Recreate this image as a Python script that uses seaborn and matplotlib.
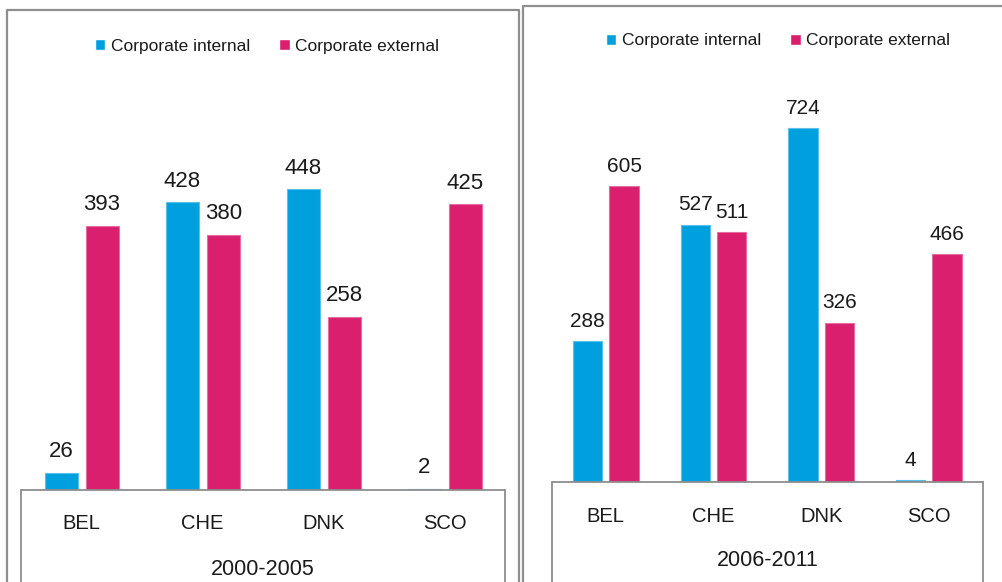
import matplotlib
matplotlib.use("Agg")
import matplotlib.pyplot as plt
from matplotlib.lines import Line2D
import numpy as np
import pandas as pd
import seaborn as sns

# ---- data ---------------------------------------------------------------
countries = ["BEL", "CHE", "DNK", "SCO"]
series_names = ["Corporate internal", "Corporate external"]

internal_2000_2005 = [26, 428, 448, 2]
external_2000_2005 = [393, 380, 258, 425]

internal_2006_2011 = [288, 527, 724, 4]
external_2006_2011 = [605, 511, 326, 466]

period_labels = ["2000-2005", "2006-2011"]

# ---- style --------------------------------------------------------------
BLUE = "#00a0df"
MAGENTA = "#da1f6e"
GREY = "#8e8e8e"
TEXT = "#1a1a1a"

sns.set_style("white")
plt.rcParams["font.family"] = ["Liberation Sans", "DejaVu Sans"]

W, H = 1002, 582
fig = plt.figure(figsize=(W / 100, H / 100), dpi=100)


def fx(px):
    return px / W


def fy(py):
    return 1 - py / H


def long_frame(internal, external):
    return pd.DataFrame({
        "country": countries * 2,
        "value": list(internal) + list(external),
        "series": [series_names[0]] * len(countries) + [series_names[1]] * len(countries),
    })


def panel(left, right, top, base, px_per_unit, internal, external, period,
          value_fs, legend_xy, cat_baseline, period_baseline):
    height_px = base - top
    ax = fig.add_axes([fx(left), fy(base), (right - left) / W, height_px / H])
    df = long_frame(internal, external)
    sns.barplot(data=df, x="country", y="value", hue="series",
                palette=[BLUE, MAGENTA], width=0.678, gap=0.195,
                saturation=1, ax=ax, errorbar=None)

    # light rim on each bar
    for bar in ax.patches:
        fc = np.array(matplotlib.colors.to_rgb(bar.get_facecolor()))
        bar.set_edgecolor(fc + (1 - fc) * 0.35)
        bar.set_linewidth(0.8)

    for cont in ax.containers:
        ax.bar_label(cont, padding=7.5, fontsize=value_fs, color=TEXT)

    ax.set_xlim(-0.5, len(countries) - 0.5)
    ax.set_ylim(0, height_px / px_per_unit)
    ax.set_yticks([])
    ax.set_xlabel("")
    ax.set_ylabel("")
    for s in ax.spines.values():
        s.set_visible(False)

    # category labels sit in the box under the baseline
    ax.set_xticks(range(len(countries)))
    ax.set_xticklabels(countries, fontsize=14.5, color=TEXT, va="baseline")
    ax.tick_params(axis="x", length=0, pad=(cat_baseline - base) * 0.72)

    ax.text(0.5, -(period_baseline - base) / height_px, period,
            transform=ax.transAxes, ha="center", va="baseline",
            fontsize=15.5, color=TEXT)

    sns.move_legend(ax, "center",
                    bbox_to_anchor=((legend_xy[0] - left) / (right - left),
                                    1 - (legend_xy[1] - top) / height_px),
                    ncol=2, frameon=False, title=None, fontsize=12.5,
                    handlelength=0.6, handleheight=0.6, handletextpad=0.3,
                    columnspacing=1.7)
    for t in ax.get_legend().get_texts():
        t.set_color(TEXT)

    # box around the category axis
    lw = 1.3
    fig.add_artist(Line2D([fx(left), fx(right)], [fy(base), fy(base)],
                          color=GREY, lw=lw, transform=fig.transFigure))
    for xp in (left, right):
        fig.add_artist(Line2D([fx(xp), fx(xp)], [fy(base), fy(H + 5)],
                              color=GREY, lw=lw, transform=fig.transFigure))
    return ax


panel(21, 505.5, 10, 490, 0.672, internal_2000_2005, external_2000_2005,
      period_labels[0], 16, (267, 46), 529, 575)
panel(552, 982.5, 6, 482, 0.4885, internal_2006_2011, external_2006_2011,
      period_labels[1], 15, (778, 41), 521.5, 566.5)

# outer frames of the two panels
frame_lw = 1.6
fig.add_artist(Line2D([fx(7), fx(7), fx(519), fx(519)],
                      [fy(H + 5), fy(10), fy(10), fy(H + 5)],
                      color=GREY, lw=frame_lw, transform=fig.transFigure))
fig.add_artist(Line2D([fx(523), fx(523), fx(W + 5)],
                      [fy(H + 5), fy(6), fy(6)],
                      color=GREY, lw=frame_lw, transform=fig.transFigure))

fig.savefig("out.png", dpi=100)
